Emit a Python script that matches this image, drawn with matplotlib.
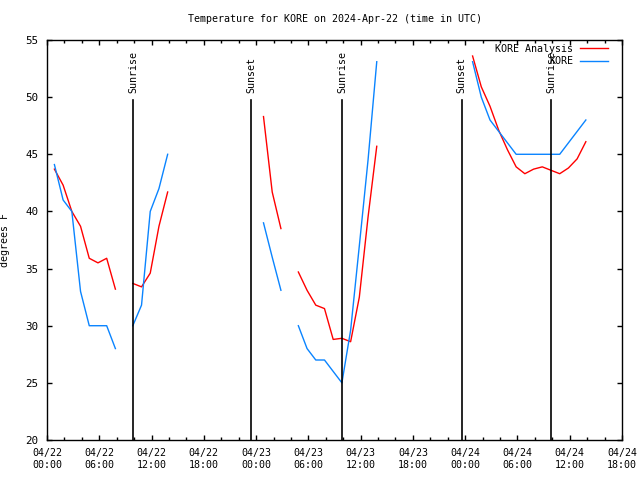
import numpy as np
import matplotlib
matplotlib.use("Agg")
import matplotlib.pyplot as plt
import matplotlib.dates as mdates

# hourly observation slots, 04/22 00:51 UTC onwards (nan = no data)
start = np.datetime64("2024-04-22T00:51")
nan = np.nan

kore_obs = [44.1, 41, 40, 33, 30, 30, 30, 28,
            nan,
            30, 31.8, 40, 42, 45,
            nan, nan, nan, nan, nan, nan, nan, nan, nan, nan,
            39, 36, 33.1,
            nan,
            30, 28, 27, 27, 26, 25, 29.6, 37, 44.5, 53.1,
            nan, nan, nan, nan, nan, nan, nan, nan, nan, nan,
            53.1, 50, 48, 47, 46, 45, 45, 45, 45, 45, 45, 46, 47, 48]

kore_analysis = [43.7, 42.3, 40.0, 38.7, 35.9, 35.5, 35.9, 33.2,
                 nan,
                 33.7, 33.4, 34.6, 38.7, 41.7,
                 nan, nan, nan, nan, nan, nan, nan, nan, nan, nan,
                 48.3, 41.7, 38.5,
                 nan,
                 34.7, 33.1, 31.8, 31.5, 28.8, 28.9, 28.6, 32.5, 39.5, 45.7,
                 nan, nan, nan, nan, nan, nan, nan, nan, nan, nan,
                 53.6, 50.9, 49.2, 47.1, 45.4, 43.9, 43.3, 43.7, 43.9, 43.6, 43.3, 43.8, 44.6, 46.1]

times = start + np.arange(len(kore_obs)) * np.timedelta64(1, "h")

events = ["2024-04-22T09:55", "2024-04-22T23:28", "2024-04-23T09:55",
          "2024-04-23T23:36", "2024-04-24T09:54"]
event_names = ["Sunrise", "Sunset", "Sunrise", "Sunset", "Sunrise"]

plt.rcParams['font.family'] = ['DejaVu Sans Mono']
fs = 7.2

fig = plt.figure(figsize=(6.4, 4.8), dpi=100)
ax = fig.add_axes([47/640, 40/480, 575/640, 400/480])

ax.plot(times, kore_analysis, color='#ff0000', lw=1.0, label='KORE Analysis')
ax.plot(times, kore_obs, color='#0a84ff', lw=1.0, label='KORE')

for ev, name in zip(events, event_names):
    t = np.datetime64(ev)
    ax.axvline(t, ymin=0, ymax=0.85, color='black', lw=1.2)
    ax.text(t, 0.868, name, transform=ax.get_xaxis_transform(), rotation=90,
            ha='center', va='bottom', fontsize=fs)

ax.set_xlim(np.datetime64("2024-04-22T00:00"), np.datetime64("2024-04-24T18:00"))
ax.set_ylim(20, 55)
ax.set_yticks(np.arange(20, 56, 5))
ax.xaxis.set_major_locator(mdates.HourLocator(byhour=range(0, 24, 6)))
ax.xaxis.set_minor_locator(mdates.HourLocator(byhour=range(0, 24, 2)))
ax.xaxis.set_major_formatter(mdates.DateFormatter('%m/%d\n%H:%M'))

ax.tick_params(which='both', direction='in', top=True, right=True,
               labelsize=fs, width=1.0)
ax.tick_params(which='major', length=3.8)
ax.tick_params(which='minor', length=2.2)
ax.tick_params(axis='x', pad=6)
ax.tick_params(axis='y', pad=6)
ax.tick_params(axis='y', labelsize=7.8)
for s in ax.spines.values():
    s.set_linewidth(1.0)

ax.set_ylabel('degrees F', fontsize=fs)
ax.yaxis.set_label_coords(-0.064, 0.5)
ax.set_title('Temperature for KORE on 2024-Apr-22 (time in UTC)', fontsize=fs, pad=13)

ax.legend(loc='upper right', bbox_to_anchor=(0.983, 1.0), frameon=False,
          markerfirst=False, fontsize=fs, handlelength=2.8, borderaxespad=0.1,
          borderpad=0.3, labelspacing=0.25, handletextpad=0.7)

fig.savefig('out.png', dpi=100)
